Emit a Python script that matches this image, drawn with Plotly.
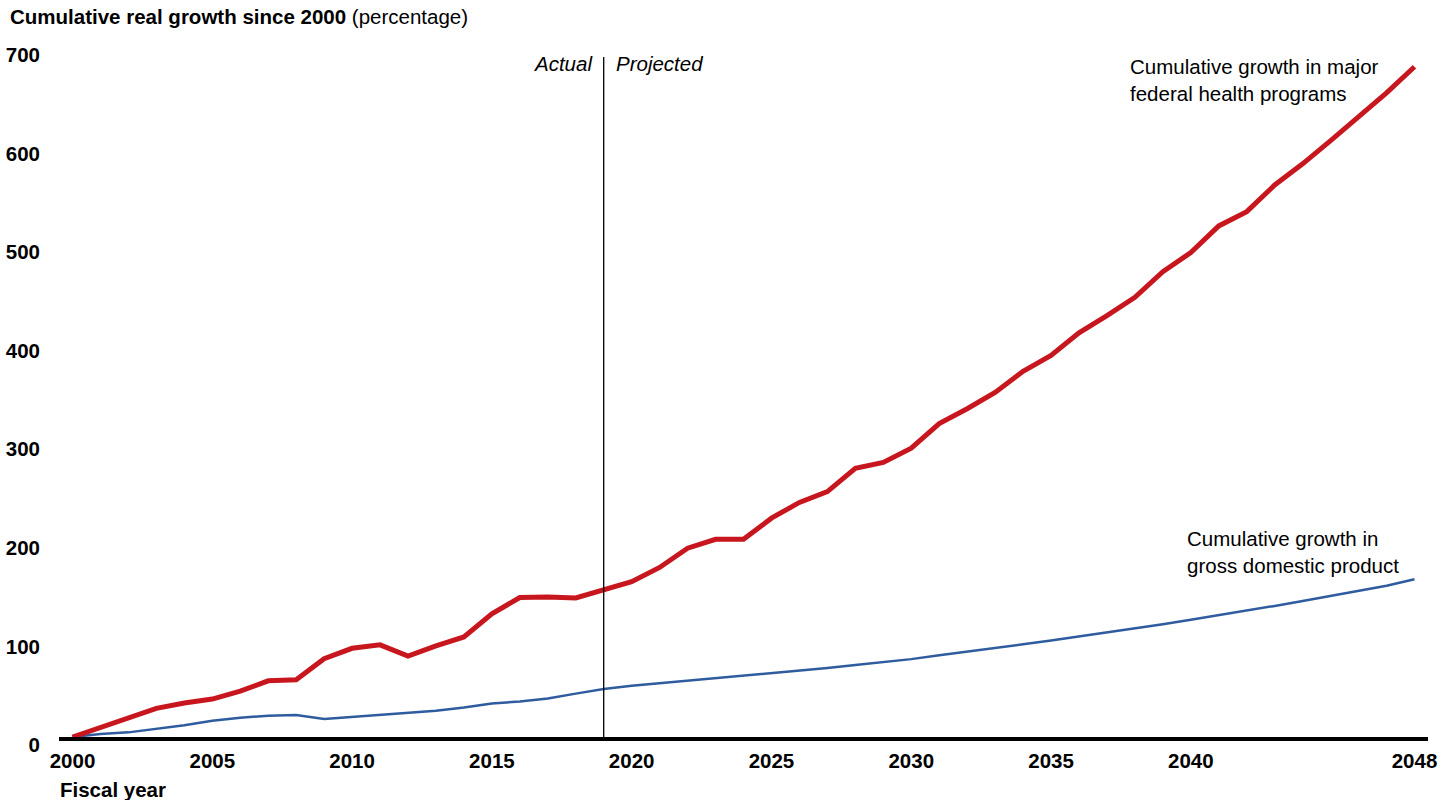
import plotly.graph_objects as go

years = list(range(2000, 2049))

health = [0, 10, 19, 29, 34.5, 38.5, 46.5, 57, 58, 79.5, 90, 93.5, 82, 92.5, 101.5,
          125, 141.5, 142, 141, 149, 157.5, 172, 191.5, 200.5, 200.5, 222, 238, 249,
          272.5, 278.5, 293, 318, 333, 349.5, 371, 387, 410, 427.5, 446, 472, 491.5,
          518.5, 533, 560, 581.5, 605, 629, 653.5, 680]

gdp = [0, 3, 4.7, 8, 12, 16.5, 19.6, 21.6, 22.3, 18.2, 20.3, 22.3, 25, 26.7, 30,
       34, 36, 39, 44, 48.6, 52, 54.5, 57, 59.5, 62, 64.5, 67, 70, 73, 76, 79, 83,
       86.5, 90, 94, 98, 102, 106, 110, 114.5, 119, 123.5, 128, 133, 138, 143, 148,
       153.5, 160]

x_ticks = [2000, 2005, 2010, 2015, 2020, 2025, 2030, 2035, 2040, 2048]
y_ticks = [0, 100, 200, 300, 400, 500, 600, 700]
split_year = 2019

FONT = "Liberation Sans, Arial, sans-serif"
RED = "#C8161E"
BLUE = "#2F5C9F"

fig = go.Figure()
fig.add_trace(go.Scatter(x=years, y=gdp, mode="lines",
                         line=dict(color=BLUE, width=2.5), showlegend=False))
fig.add_trace(go.Scatter(x=years, y=health, mode="lines",
                         line=dict(color=RED, width=5), showlegend=False))

fig.add_shape(type="line", xref="x", yref="paper", x0=split_year, x1=split_year,
              y0=0, y1=0.9855, line=dict(color="black", width=1.3))

annos = [
    dict(text="<i>Actual</i>", x=split_year, xref="x", xanchor="right", xshift=-9,
         y=0.9754, yref="paper", yanchor="middle"),
    dict(text="<i>Projected</i>", x=split_year, xref="x", xanchor="left", xshift=10,
         y=0.9754, yref="paper", yanchor="middle"),
    dict(text="Cumulative growth in major<br>federal health programs", x=0.7808,
         xref="paper", xanchor="left", y=0.9522, yref="paper", yanchor="middle",
         align="left"),
    dict(text="Cumulative growth in<br>gross domestic product", x=0.8225,
         xref="paper", xanchor="left", y=0.2688, yref="paper", yanchor="middle",
         align="left"),
    dict(text="<b>Cumulative real growth since 2000</b> (percentage)", x=-0.0372,
         xref="paper", xanchor="left", y=1.0435, yref="paper", yanchor="middle"),
    dict(text="<b>Fiscal year</b>", x=-0.0007, xref="paper", xanchor="left",
         y=-0.0768, yref="paper", yanchor="middle"),
]
for a in annos:
    fig.add_annotation(showarrow=False, font=dict(family=FONT, size=20.5, color="black"),
                       **a)

fig.update_layout(
    width=1456, height=800,
    margin=dict(l=59, r=28, t=47, b=63, autoexpand=False),
    plot_bgcolor="white", paper_bgcolor="white",
    font=dict(family=FONT, size=20.5, color="black"),
    xaxis=dict(range=[1999.517, 2048.483], tickvals=x_ticks, automargin=False,
               ticktext=[str(v) for v in x_ticks], showgrid=False, zeroline=False,
               showline=True, linecolor="black", linewidth=4, ticks="",
               ticklabelstandoff=2,
               tickfont=dict(family=FONT, size=20.5, color="black", weight="bold")),
    yaxis=dict(range=[0, 700], tickvals=y_ticks, showgrid=False, zeroline=False,
               automargin=False,
               showline=False, ticks="", ticklabelstandoff=18, ticklabelshift=8,
               tickfont=dict(family=FONT, size=20.5, color="black", weight="bold")),
)

fig.write_html("out.html", config={"displayModeBar": False},
               post_script="document.body.style.margin='0px';")
